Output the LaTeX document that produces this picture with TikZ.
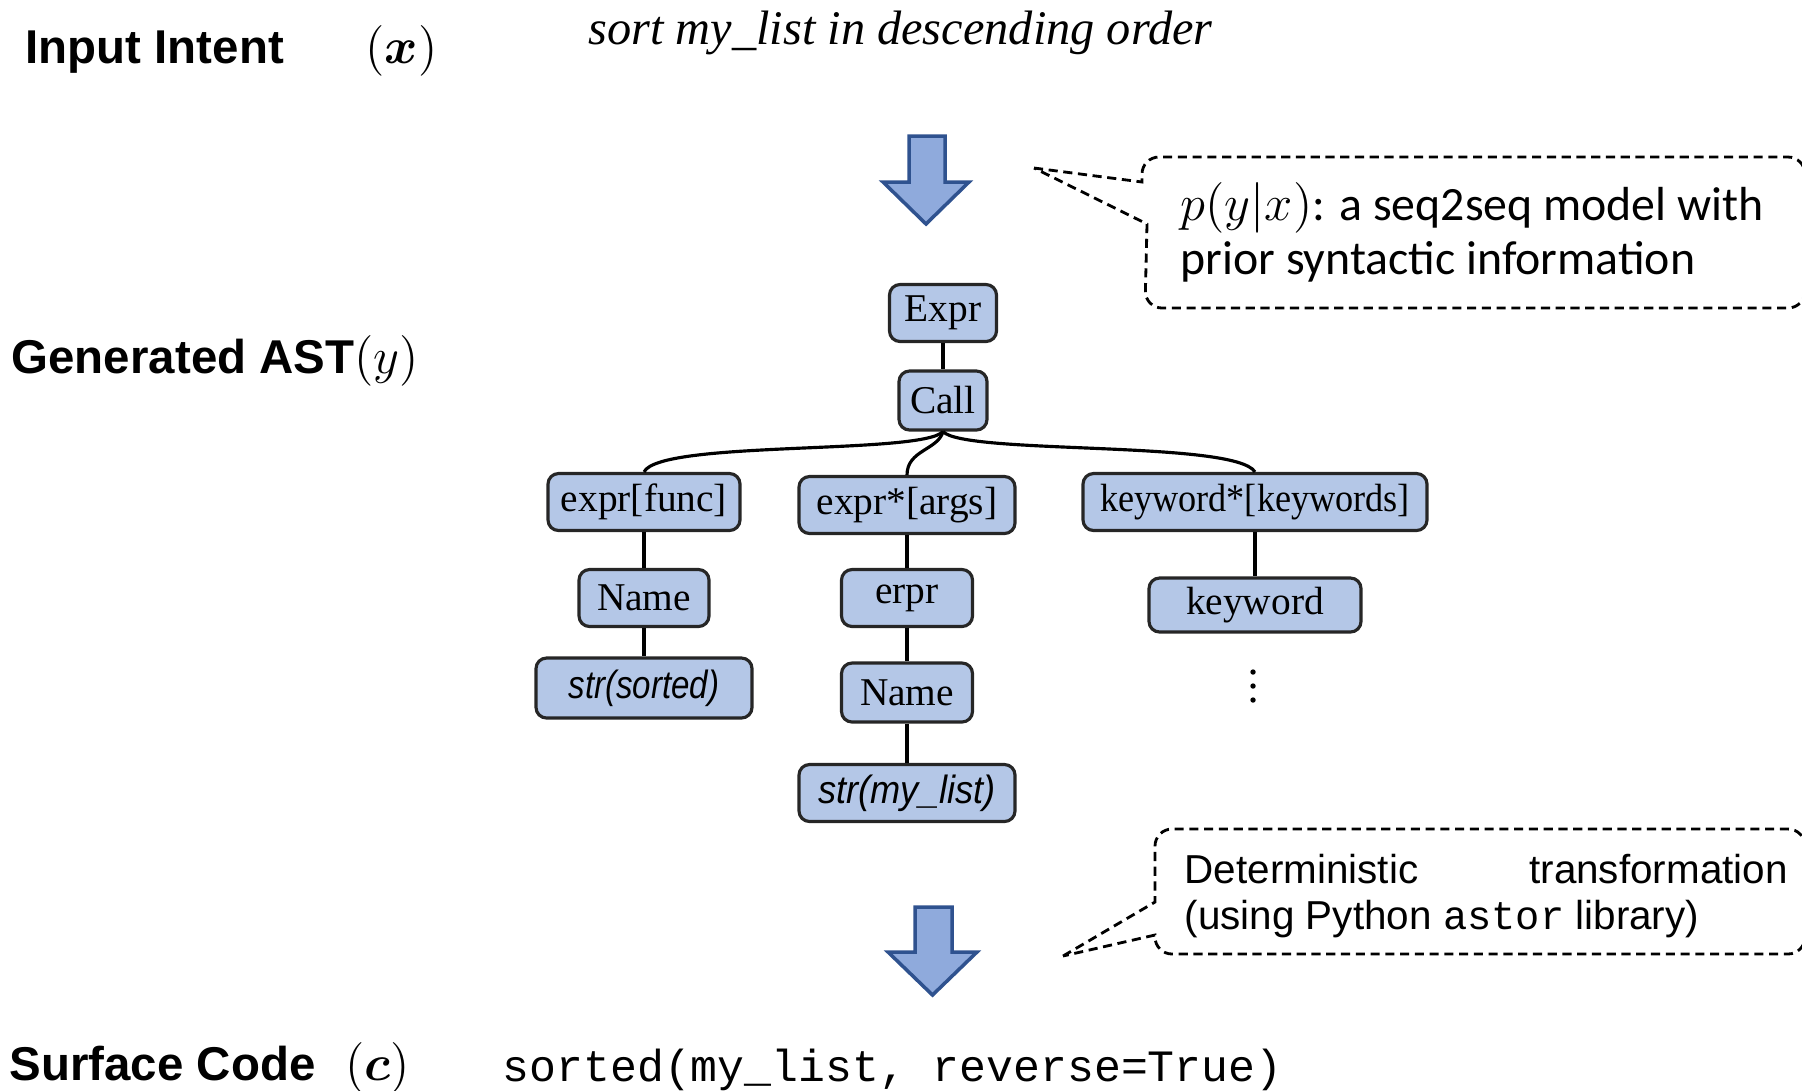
\documentclass[tikz,border=0pt]{standalone}
\usepackage{amsmath}
\usepackage{fontspec}
\setmainfont{Liberation Serif}
\setmonofont{Liberation Mono}
\newfontfamily\helv{Liberation Sans}
\newfontfamily\calib{Carlito}
\usepackage{graphicx}
\usepackage{xcolor}
\usepackage{tikz}
\usetikzlibrary{positioning}

\definecolor{astfill}{RGB}{180,199,231}
\definecolor{arrowfill}{RGB}{143,170,220}
\definecolor{arrowline}{RGB}{47,82,143}

\begin{document}
\begin{tikzpicture}[
    astnode/.style={rectangle, draw=black!85, line width=0.9pt, rounded corners=3pt, fill=astfill, minimum height=0.57cm, inner sep=1pt, font=\fontsize{11.2}{13}\selectfont},
    plaintext/.style={anchor=base west, inner sep=0pt},
    rowlabel/.style={plaintext, font=\helv\bfseries\fontsize{13.5}{16}\selectfont},
    mathlabel/.style={plaintext, font=\fontsize{14}{16}\selectfont},
    callout/.style={draw, line width=0.8pt, dash pattern=on 2.6pt off 1.6pt},
    bigarrow/.style={draw=arrowline, fill=arrowfill, line width=1pt},
    treeline/.style={line width=0.9pt},
]
\useasboundingbox (0,0) rectangle (18.02,-10.90);

% Row labels
\node[rowlabel] (lblx) at (0.25,-0.63) {Input Intent};
\node[mathlabel] (symx) at (3.65,-0.63) {$(\boldsymbol{x})$};
\node[rowlabel] (lbly) at (0.11,-3.73) {Generated AST\normalfont\fontsize{14}{16}\selectfont$(y)$};
\node[rowlabel] (lblc) at (0.09,-10.80) {Surface Code};
\node[mathlabel] (symc) at (3.45,-10.80) {$(\boldsymbol{c})$};

% Intent and code
\node[plaintext, font=\itshape\fontsize{13.75}{16}\selectfont] (intent) at (5.88,-0.44) {sort my\_list in descending order};
\node[plaintext, font=\ttfamily\fontsize{12.75}{15}\selectfont] (code) at (5.02,-10.81) {sorted(my\_list, reverse=True)};

% Block arrows
\draw[bigarrow] (9.09,-1.36) -- (9.45,-1.36) -- (9.45,-1.82) -- (9.69,-1.82) -- (9.26,-2.24) -- (8.83,-1.82) -- (9.09,-1.82) -- cycle;
\draw[bigarrow] (9.15,-9.07) -- (9.52,-9.07) -- (9.52,-9.52) -- (9.77,-9.52) -- (9.325,-9.95) -- (8.88,-9.52) -- (9.15,-9.52) -- cycle;

% Callouts
\draw[callout] (10.34,-1.68) -- (11.42,-1.82) [rounded corners=0.17cm] -- (11.42,-1.57) -- (18.05,-1.57) -- (18.05,-3.08) -- (11.45,-3.08) [sharp corners] -- (11.47,-2.24) -- cycle;
\node[plaintext, font=\calib\fontsize{13.6}{16}\selectfont] (modeltxt) at (11.80,-2.20) {$p(y|x)$: a seq2seq model with};
\node[plaintext, font=\calib\fontsize{13.6}{16}\selectfont] (modeltxtb) at (11.80,-2.74) {prior syntactic information};

\draw[callout] (10.63,-9.56) -- (11.55,-9.02) [rounded corners=0.17cm] -- (11.55,-8.29) -- (18.05,-8.29) -- (18.05,-9.54) -- (11.55,-9.54) [sharp corners] -- (11.55,-9.35) -- cycle;
\node[plaintext, font=\helv\fontsize{11.5}{13}\selectfont] (dettxt) at (11.84,-8.83) {\hbox to 6.03cm{Deterministic\hfill transformation}};
\node[plaintext, font=\helv\fontsize{11.5}{13}\selectfont] (dettxtb) at (11.84,-9.29) {(using Python \texttt{astor} library)};

% AST nodes
\node[astnode, minimum width=1.07cm] (expr) at (9.43,-3.13) {Expr};
\node[astnode, minimum width=0.88cm, minimum height=0.59cm] (call) at (9.43,-4.005) {Call};
\node[astnode, minimum width=1.92cm] (func) at (6.44,-5.02) {expr[func]};
\node[astnode, minimum width=2.16cm] (args) at (9.07,-5.05) {expr*[args]};
\node[astnode, minimum width=3.44cm] (kwds) at (12.55,-5.02) {\scalebox{0.92}[1]{keyword*[keywords]}};
\node[astnode, minimum width=1.30cm] (namel) at (6.44,-5.98) {Name};
\node[astnode, minimum width=2.16cm, minimum height=0.60cm] (strsorted) at (6.44,-6.88) {\helv\itshape\scalebox{0.84}[1]{str(sorted)}};
\node[astnode, minimum width=1.31cm] (erpr) at (9.07,-5.98) {erpr};
\node[astnode, minimum width=1.31cm, minimum height=0.59cm] (namem) at (9.07,-6.925) {Name};
\node[astnode, minimum width=2.16cm] (strlist) at (9.07,-7.93) {\helv\itshape\scalebox{0.92}[1]{str(my\_list)}};
\node[astnode, minimum width=2.12cm, minimum height=0.54cm] (kw) at (12.55,-6.05) {keyword};

% More keywords
\coordinate (kwdots) at (12.53,-6.86);
\foreach \d in {-0.14,0,0.14}
    \fill ([yshift=\d cm]kwdots) circle (0.027);

% Tree edges
\foreach \a/\b in {expr/call, func/namel, namel/strsorted, args/erpr, erpr/namem, namem/strlist, kwds/kw}
    \draw[treeline] (\a) -- (\b);
\draw[treeline] (call.south) .. controls (9.20,-4.55) and (6.60,-4.40) .. (func.north);
\draw[treeline] (call.south) .. controls (9.38,-4.50) and (9.07,-4.50) .. (args.north);
\draw[treeline] (call.south) .. controls (9.65,-4.55) and (12.35,-4.40) .. (kwds.north);

\end{tikzpicture}
\end{document}
